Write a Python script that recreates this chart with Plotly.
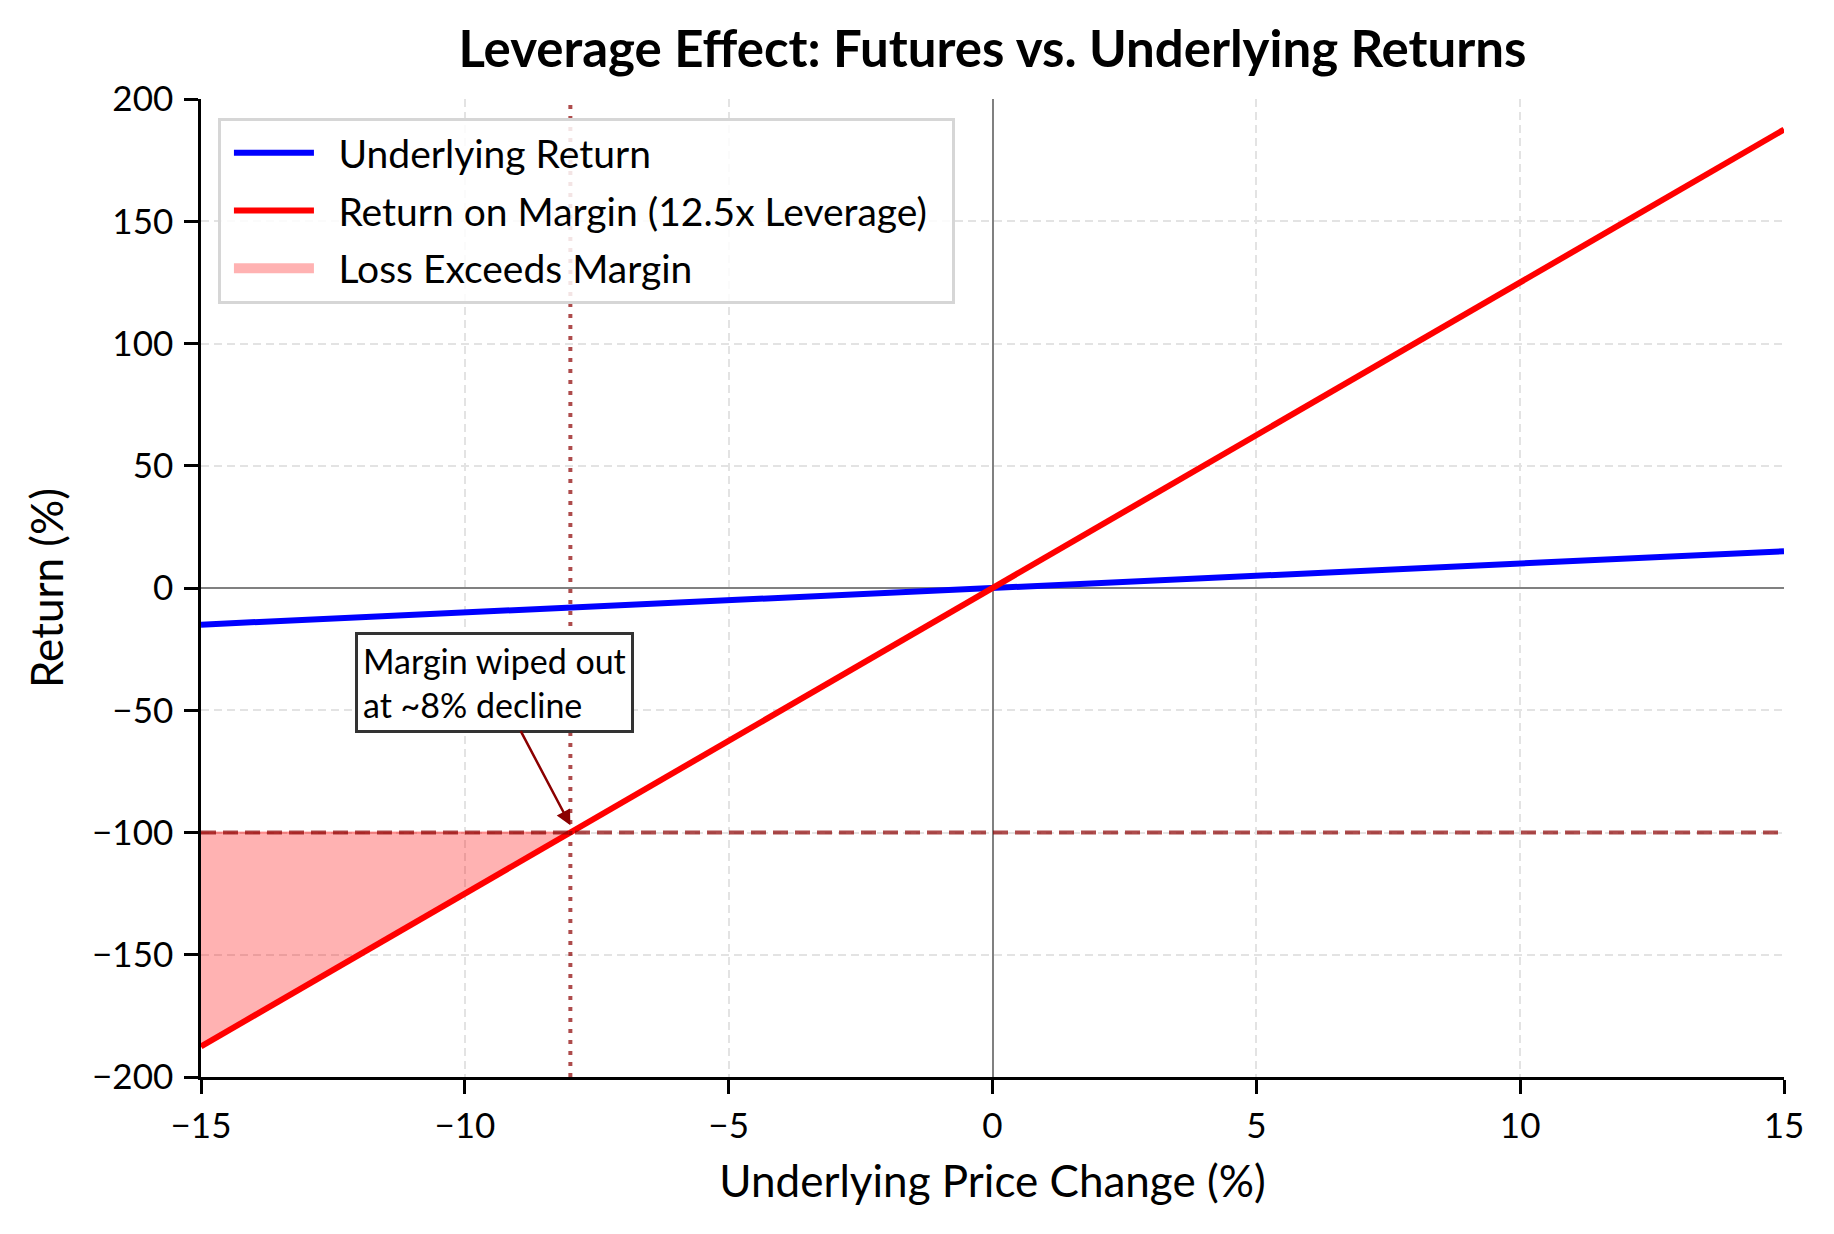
import plotly.graph_objects as go

# Values
price_change = [-15, -10, -5, 0, 5, 10, 15]
underlying_return = [-15, -10, -5, 0, 5, 10, 15]
margin_return = [-187.5, -125, -62.5, 0, 62.5, 125, 187.5]

# Region where losses exceed the posted margin
loss_x = [-15, -8, -15]
loss_y = [-187.5, -100, -100]

wipeout_x = -8
wipeout_y = -100

x_ticks = [-15, -10, -5, 0, 5, 10, 15]
y_ticks = [-200, -150, -100, -50, 0, 50, 100, 150, 200]

font_family = "Lato, 'Noto Sans', sans-serif"
ref_color = 'rgba(139,0,0,0.7)'
loss_fill = 'rgba(255,0,0,0.3)'
gap = '\u2002'  # little extra room between legend sample and label

fig = go.Figure()

# Shaded loss area (legend entry drawn by a separate patch-like trace)
fig.add_trace(go.Scatter(
    x=loss_x, y=loss_y,
    fill='toself', fillcolor=loss_fill,
    line=dict(color='rgba(255,0,0,0.35)', width=2),
    mode='lines', showlegend=False, hoverinfo='skip'
))

fig.add_trace(go.Scatter(
    x=price_change, y=underlying_return,
    mode='lines',
    line=dict(color='blue', width=6),
    name=gap + 'Underlying Return',
    legendgroup='a', legendrank=1
))

fig.add_trace(go.Scatter(
    x=price_change, y=margin_return,
    mode='lines',
    line=dict(color='red', width=6),
    name=gap + 'Return on Margin (12.5x Leverage)' + gap,
    legendgroup='b', legendrank=2
))

# legend patch for the shaded area
fig.add_trace(go.Scatter(
    x=[None], y=[None],
    mode='lines',
    line=dict(color=loss_fill, width=26),
    name=gap + 'Loss Exceeds Margin',
    legendgroup='c', legendrank=3
))

# Margin wiped out reference lines
fig.add_shape(type='line', xref='x', yref='y',
              x0=min(price_change), x1=max(price_change), y0=wipeout_y, y1=wipeout_y,
              line=dict(color=ref_color, width=4, dash='15px,7px'), layer='above')
fig.add_shape(type='line', xref='x', yref='y',
              x0=wipeout_x, x1=wipeout_x, y0=min(y_ticks), y1=max(y_ticks),
              line=dict(color=ref_color, width=4, dash='4px,7px'), layer='above')

fig.add_annotation(
    x=wipeout_x, y=wipeout_y + 3,
    ax=-9.43, ay=-38.5, axref='x', ayref='y',
    text='Margin wiped out<br>at ~8% decline',
    align='left',
    showarrow=True,
    arrowhead=2, arrowsize=1.2, arrowwidth=2.5, arrowcolor='darkred',
    font=dict(size=34, color='black', family=font_family),
    bgcolor='white', bordercolor='#333333', borderwidth=3, borderpad=5
)

fig.update_layout(
    width=1834, height=1234,
    margin=dict(l=201, r=50, t=99, b=157),
    paper_bgcolor='white', plot_bgcolor='white',
    font=dict(family=font_family, size=35, color='black'),
    title=dict(text='<b>Leverage Effect: Futures vs. Underlying Returns</b>',
               x=0.5, xref='paper', xanchor='center', y=0.96, yanchor='middle',
               font=dict(size=51, color='black')),
    legend=dict(x=0.0107, y=0.9806, xanchor='left', yanchor='top',
                bgcolor='rgba(255,255,255,0.85)', bordercolor='#d6d6d6', borderwidth=3,
                font=dict(size=39), itemwidth=80, indentation=8,
                traceorder='grouped', tracegroupgap=4),
    showlegend=True
)

fig.update_xaxes(
    range=[-15, 15], tickvals=x_ticks, automargin=False,
    title=dict(text='Underlying Price Change (%)', font=dict(size=44), standoff=23),
    showgrid=True, gridcolor='#e3e3e3', griddash='8px,5px', gridwidth=2,
    zeroline=True, zerolinecolor='#808080', zerolinewidth=1.5,
    showline=True, linecolor='black', linewidth=2.5,
    ticks='outside', ticklen=14, tickwidth=2.5, tickcolor='black',
    ticklabelstandoff=2, mirror=False
)
fig.update_yaxes(
    range=[-200, 200], tickvals=y_ticks, automargin=False,
    title=dict(text='Return (%)', font=dict(size=44), standoff=15),
    showgrid=True, gridcolor='#e3e3e3', griddash='8px,5px', gridwidth=2,
    zeroline=True, zerolinecolor='#808080', zerolinewidth=1.5,
    showline=True, linecolor='black', linewidth=2.5,
    ticks='outside', ticklen=14, tickwidth=2.5, tickcolor='black',
    ticklabelstandoff=4, mirror=False
)

# drop the default page margin so the figure sits flush in the window
fig.write_html("out.html", config={'displayModeBar': False},
               post_script="document.body.style.margin='0';")
